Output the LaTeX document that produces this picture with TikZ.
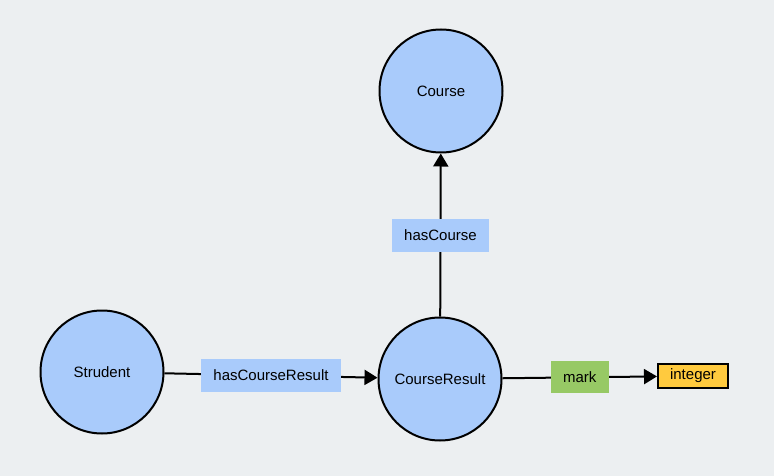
\documentclass[tikz,border=0pt]{standalone}
\usepackage{fontspec}
\setmainfont{Liberation Sans}
\usetikzlibrary{positioning, arrows.meta}

\definecolor{bgGrey}{HTML}{ECEFF1}
\definecolor{classBlue}{HTML}{A9CBFB}
\definecolor{propGreen}{HTML}{97C965}
\definecolor{litYellow}{HTML}{FFCA3E}

\begin{document}
\begin{tikzpicture}[
    x = 1pt, y = -1pt,
    classNode/.append style = {draw, circle, line width = 2pt, fill = classBlue, minimum size = 123pt, inner sep = 0pt, font = \fontsize{15}{17}\selectfont},
    propNode/.append style = {rectangle, fill = classBlue, minimum height = 33pt, inner sep = 0pt, font = \fontsize{15}{17}\selectfont},
    litNode/.append style = {draw, rectangle, line width = 2pt, fill = litYellow, minimum height = 24pt, minimum width = 70pt, inner sep = 0pt, font = \fontsize{15}{17}\selectfont},
    myArrow/.append style = {-{Triangle[length = 13pt, width = 15pt]}, line width = 2pt},
    ]
      \useasboundingbox[fill = bgGrey] (0, 0) rectangle (774, 476);

      \node[classNode] (course) at (441, 91) {Course};
      \node[classNode] (student) at (102, 372) {Strudent};
      \node[classNode] (courseResult) at (440, 379) {CourseResult};
      \node[litNode] (integer) at (693, 376) {integer};

      %% Arrows

      \draw[myArrow] (student) -- node[propNode, minimum width = 140pt] (hasCourseResult) {hasCourseResult} (courseResult);
      \draw[myArrow] (courseResult) -- node[propNode, minimum width = 97pt] (hasCourse) {hasCourse} (course);
      \draw[myArrow] (courseResult) -- node[propNode, fill = propGreen, minimum width = 58pt, minimum height = 32pt] (mark) {mark} (integer);
    \end{tikzpicture}
\end{document}
